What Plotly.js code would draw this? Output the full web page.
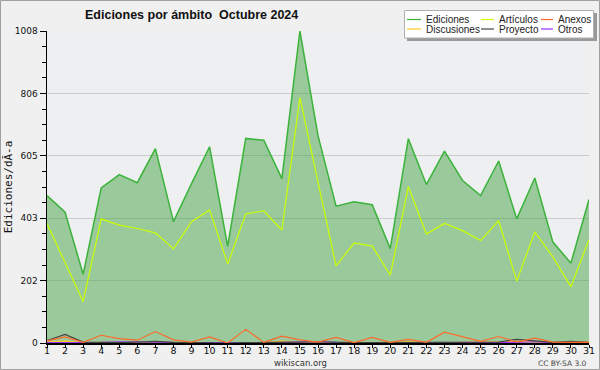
<!DOCTYPE html>
<html>
<head>
<meta charset="utf-8">
<script src="https://cdn.plot.ly/plotly-3.0.1.min.js"></script>
<style>
html,body{margin:0;padding:0;background:#f0f0f0;}
#chart{width:600px;height:370px;}
</style>
</head>
<body>
<div id="chart"></div>
<script>
var days = [1,2,3,4,5,6,7,8,9,10,11,12,13,14,15,16,17,18,19,20,21,22,23,24,25,26,27,28,29,30,31];
var ediciones = [476,423,222,501,544,518,628,392,515,634,312,661,655,531,1008,670,442,456,447,305,660,512,620,525,476,588,401,533,326,258,464];
var articulos = [386,259,134,401,381,370,356,304,392,430,255,417,427,365,793,520,249,323,313,219,505,352,386,363,331,395,200,359,278,182,334];
var anexos = [7,20,2,25,14,9,37,10,3,20,0,44,2,22,10,3,18,1,18,2,12,2,35,20,5,21,3,16,3,2,2];
var discusiones = [3,6,1,2,2,1,3,2,1,1,0,1,1,6,2,1,2,1,1,1,4,1,1,2,1,2,5,3,1,1,3];
var proyecto = [8,28,3,2,1,3,5,2,1,1,0,1,1,2,3,4,2,1,1,1,2,1,1,1,2,3,12,6,2,5,2];
var otros = [1,1,1,2,4,3,1,1,1,1,0,1,1,2,4,4,2,1,1,1,1,1,1,1,1,2,2,4,1,1,1];

var yTickVals = [0,201.6,403.2,604.8,806.4,1008];
var yTickText = ["0","202","403","605","806","1008"];

var seriesNames = ["Ediciones","Artículos","Anexos","Discusiones","Proyecto","Otros"];
var seriesColors = ["#3bb33b","#ccff00","#ff6a2a","#ffcc22","#444444","#9933ff"];

var traces = [
  {x: days, y: ediciones, name: seriesNames[0], type: 'scatter', mode: 'lines', fill: 'tozeroy',
   fillcolor: 'rgba(50,155,50,0.45)', line: {color: seriesColors[0], width: 1.5}},
  {x: days, y: articulos, name: seriesNames[1], type: 'scatter', mode: 'lines', line: {color: seriesColors[1], width: 1.2}},
  {x: days, y: discusiones, name: seriesNames[3], type: 'scatter', mode: 'lines', line: {color: seriesColors[3], width: 1.2}},
  {x: days, y: otros, name: seriesNames[5], type: 'scatter', mode: 'lines', line: {color: seriesColors[5], width: 1.2}},
  {x: days, y: proyecto, name: seriesNames[4], type: 'scatter', mode: 'lines', line: {color: seriesColors[4], width: 1.2}},
  {x: days, y: anexos, name: seriesNames[2], type: 'scatter', mode: 'lines', line: {color: seriesColors[2], width: 1.2}}
];

// pixel helpers for decorations (plot area: x 47..589, y 31..343)
function px(x){ return (x-47)/542; }
function py(y){ return (343-y)/312; }

var shapes = [];
var annotations = [];

// outer frame
shapes.push({type:'rect', xref:'paper', yref:'paper', x0:px(0.5), x1:px(599.5), y0:py(369.5), y1:py(0.5),
  line:{color:'#a0a0a0', width:1}, fillcolor:'rgba(0,0,0,0)', layer:'below'});

// legend box with shadow
shapes.push({type:'rect', xref:'paper', yref:'paper', x0:px(407), x1:px(597), y0:py(41), y1:py(13),
  line:{width:0}, fillcolor:'#9a9a9a', layer:'above'});
shapes.push({type:'rect', xref:'paper', yref:'paper', x0:px(404.5), x1:px(593.5), y0:py(38), y1:py(10.5),
  line:{color:'#b0b0b0', width:1}, fillcolor:'#ffffff', layer:'above'});

var legCols = [[407,421,424],[481,494,497],[541,553,556]];
var legRows = [19.5, 29];
var legOrder = [[0,1,2],[3,4,5]];
for (var r=0; r<2; r++){
  for (var c=0; c<3; c++){
    var idx = legOrder[r][c];
    var cx = legCols[c];
    shapes.push({type:'line', xref:'paper', yref:'paper', x0:px(cx[0]), x1:px(cx[1]), y0:py(legRows[r]), y1:py(legRows[r]),
      line:{color:seriesColors[idx], width:1.2}, layer:'above'});
    annotations.push({xref:'paper', yref:'paper', x:px(cx[2]), y:py(legRows[r]), xanchor:'left', yanchor:'middle',
      text:seriesNames[idx], showarrow:false, font:{family:'Liberation Sans', size:10, color:'#222'}});
  }
}

annotations.push({xref:'paper', yref:'paper', x:px(300), y:py(362.5), xanchor:'center', yanchor:'middle',
  text:'wikiscan.org', showarrow:false, font:{family:'DejaVu Sans', size:8.5, color:'#333'}});
annotations.push({xref:'paper', yref:'paper', x:px(589), y:py(363), xanchor:'right', yanchor:'middle',
  text:'CC BY-SA 3.0', showarrow:false, font:{family:'DejaVu Sans', size:7.5, color:'#444'}});

var layout = {
  width: 600, height: 370,
  margin: {l:47, r:11, t:31, b:27, pad:0},
  paper_bgcolor: '#f0f0f0',
  plot_bgcolor: '#eeeff1',
  showlegend: false,
  font: {family: 'DejaVu Sans', size: 9, color: '#222'},
  title: {text: '<b>Ediciones por ámbito \u00a0Octubre 2024</b>', x: 85/600, xanchor: 'left', xref: 'container',
          y: 1-15/370, yanchor: 'middle', yref: 'container', font: {family: 'Liberation Sans', size: 12.5, color: '#111'}},
  xaxis: {
    range: [1, 31], tickvals: days, ticktext: days.map(String),
    showgrid: false, zeroline: false, showline: true, linecolor: '#000', linewidth: 1.5,
    ticks: 'outside', ticklen: 3, tickcolor: '#000', tickwidth: 1, ticklabelstandoff: -5,
    tickfont: {family: 'DejaVu Sans', size: 9.5, color: '#111'}, fixedrange: true
  },
  yaxis: {
    range: [0, 1008], tickvals: yTickVals, ticktext: yTickText,
    showgrid: true, gridcolor: '#cccccc', gridwidth: 1, zeroline: false,
    showline: true, linecolor: '#000', linewidth: 1.5,
    ticks: 'outside', ticklen: 6, tickcolor: '#000', tickwidth: 1,
    minor: {dtick: 50.4, tick0: 0, ticks: 'outside', ticklen: 4, tickcolor: '#000', showgrid: false},
    tickfont: {family: 'DejaVu Sans', size: 9, color: '#111'},
    title: {text: 'Ediciones/dÃ-a', standoff: 0, font: {family: 'DejaVu Sans Mono', size: 11, color: '#111'}},
    fixedrange: true
  },
  shapes: shapes,
  annotations: annotations
};

Plotly.newPlot('chart', traces, layout, {staticPlot: true, displayModeBar: false});
</script>
</body>
</html>
